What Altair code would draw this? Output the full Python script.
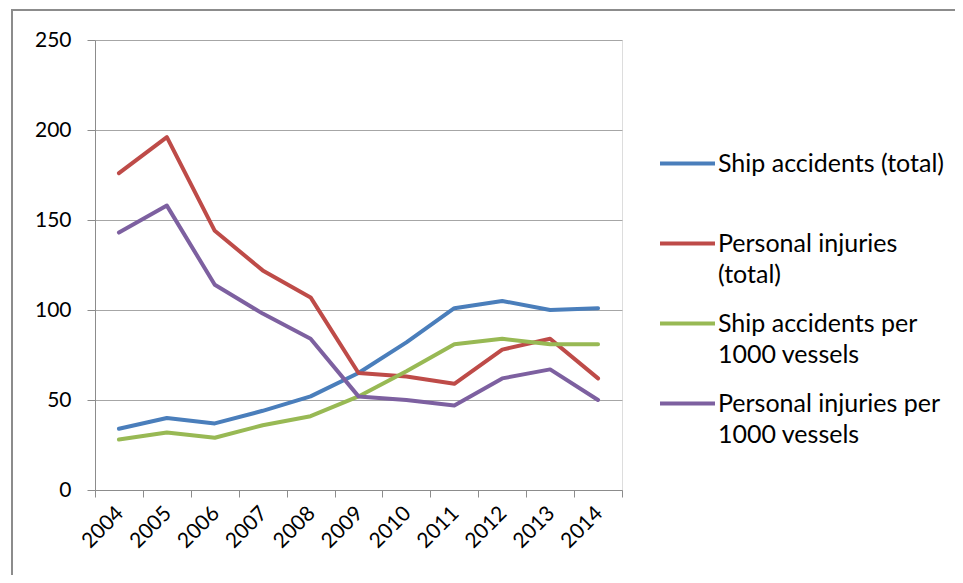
import altair as alt
import pandas as pd

years = ["2004", "2005", "2006", "2007", "2008", "2009", "2010", "2011", "2012", "2013", "2014"]
series_names = [
    "Ship accidents (total)",
    "Personal injuries (total)",
    "Ship accidents per 1000 vessels",
    "Personal injuries per 1000 vessels",
]
legend_lines = [
    ["Ship accidents (total)", ""],
    ["Personal injuries", "(total)"],
    ["Ship accidents per", "1000 vessels"],
    ["Personal injuries per", "1000 vessels"],
]
ship_total = [34, 40, 37, 44, 52, 65, 82, 101, 105, 100, 101]
injury_total = [176, 196, 144, 122, 107, 65, 63, 59, 78, 84, 62]
ship_per1000 = [28, 32, 29, 36, 41, 52, 66, 81, 84, 81, 81]
injury_per1000 = [143, 158, 114, 98, 84, 52, 50, 47, 62, 67, 50]
colors = ["#4A7EBB", "#BE4B48", "#98B954", "#7D60A0"]

values = [ship_total, injury_total, ship_per1000, injury_per1000]
rows = []
for name, vals in zip(series_names, values):
    for y, v in zip(years, vals):
        rows.append({"series": name, "year": y, "value": v})
df = pd.DataFrame(rows)

label_expr = " : ".join(
    f"datum.label == '{n}' ? {str(l)}" for n, l in zip(series_names, legend_lines)
) + " : datum.label"

lines = alt.Chart(df).mark_line(strokeWidth=4, strokeCap="round", strokeJoin="round").encode(
    x=alt.X(
        "year:O",
        sort=years,
        bandPosition=0.5,
        scale=alt.Scale(type="band", paddingInner=0, paddingOuter=0),
        axis=alt.Axis(
            title=None,
            labelAngle=-45,
            labelAlign="right",
            labelBaseline="middle",
            labelOffset=1,
            labelPadding=13,
            labelFontSize=21,
            labelFont="Lato",
            labelColor="#000000",
            tickBand="extent",
            tickSize=7,
            tickColor="#8c8c8c",
            domainColor="#8c8c8c",
            grid=False,
        ),
    ),
    y=alt.Y(
        "value:Q",
        scale=alt.Scale(domain=[0, 250], nice=False),
        axis=alt.Axis(
            title=None,
            values=[0, 50, 100, 150, 200, 250],
            labelFontSize=21,
            labelFont="Lato",
            labelColor="#000000",
            labelPadding=16,
            tickSize=8,
            tickColor="#8c8c8c",
            domainColor="#8c8c8c",
            gridColor="#a6a6a6",
            gridWidth=1,
        ),
    ),
    color=alt.Color(
        "series:N",
        sort=series_names,
        scale=alt.Scale(domain=series_names, range=colors),
        legend=alt.Legend(
            title=None,
            orient="none",
            legendX=563,
            legendY=94,
            symbolType="stroke",
            symbolSize=3025,
            symbolStrokeWidth=4,
            labelFont="Lato",
            labelFontSize=25,
            labelColor="#000000",
            labelOffset=1,
            labelLimit=400,
            labelExpr=label_expr,
            rowPadding=6,
            padding=0,
        ),
    ),
)

frame = alt.Chart(pd.DataFrame({"f": [0]})).mark_rect(
    fillOpacity=0, stroke="#8c8c8c", strokeWidth=2
).encode(
    x=alt.value(-83), x2=alt.value(900), y=alt.value(-30), y2=alt.value(560)
)

chart = alt.layer(frame, lines).properties(
    width=527,
    height=450,
    autosize=alt.AutoSizeParams(type="none"),
    padding={"left": 87, "top": 32, "right": 333, "bottom": 85},
).configure_view(stroke=None).configure(
    background="white",
    style={"guide-label": {"lineHeight": 31}},
)

chart.save("out.html", embed_options={"renderer": "svg", "actions": False})
